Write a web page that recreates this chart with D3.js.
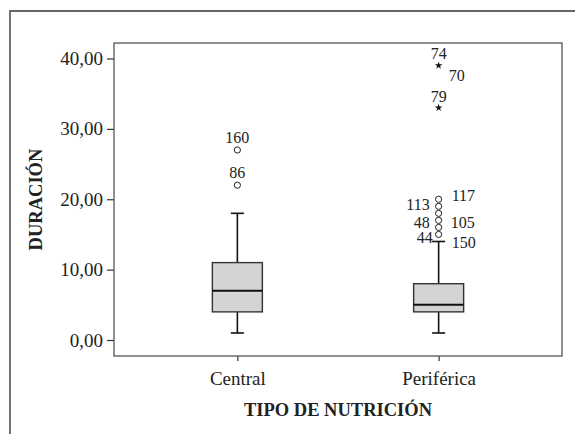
<!DOCTYPE html>
<html>
<head>
<meta charset="utf-8">
<title>Duración por tipo de nutrición</title>
<style>
	html, body { margin: 0; padding: 0; background: #fff; }
	svg { display: block; font-family: "Liberation Serif", "Times New Roman", serif; }
	.axis path, .axis line { stroke: #333; stroke-width: 1.2; }
	.axis text { font-family: "Liberation Serif", "Times New Roman", serif; font-size: 19px; fill: #222; }
	.title { font-size: 18.5px; font-weight: bold; fill: #222; }
	.lbl { font-size: 16px; fill: #222; }
</style>
</head>
<body>
<div id="chart"></div>
<script src="https://cdn.jsdelivr.net/npm/d3@7"></script>
<script>
// data
const categories = ["Central", "Periférica"]
const whiskerLow = [1, 1]
const q1 = [4, 4]
const medians = [7, 5]
const q3 = [11, 8]
const whiskerHigh = [18, 14]
const outliers = [[22, 27], [15, 16, 17, 18, 19, 20]]
const extremes = [[], [39, 33]]
const yTicks = [0, 10, 20, 30, 40]

// case labels: category, value it belongs to, case number
const caseLabels = [
	[0, 22, "86"], [0, 27, "160"],
	[1, 39, "74"], [1, 39, "70"], [1, 33, "79"],
	[1, 20, "117"], [1, 19, "113"], [1, 17, "48"],
	[1, 17, "105"], [1, 15, "44"], [1, 15, "150"]
]
// where each label sits next to its point (side, dx, dy in px)
const labelPlace = [
	["above", 0, -7], ["above", 0, -7],
	["above", 0, -7], ["right", 10, 15], ["above", 0, -6],
	["right", 13, 2], ["left", -9, 4], ["left", -9, 8],
	["right", 12, 8], ["left", -6, 9], ["right", 13, 14]
]

const width = 575, height = 434
const plot = { left: 114, top: 43, right: 562, bottom: 356 }

const svg = d3.select("#chart").append("svg")
	.attr("width", width)
	.attr("height", height)

// outer frame (runs past the right and bottom edges)
svg.append("path")
	.attr("d", "M10," + (height + 5) + "V11H" + (width + 5))
	.attr("fill", "none")
	.attr("stroke", "#666")
	.attr("stroke-width", 1.8)

const x = d3.scalePoint()
	.domain(categories)
	.range([plot.left, plot.right])
	.padding(0.613)

const y = d3.scaleLinear()
	.domain([-2.27, 42.2])
	.range([plot.bottom, plot.top])

svg.append("g")
	.attr("class", "axis")
	.attr("transform", "translate(" + plot.left + ",0)")
	.call(d3.axisLeft(y).tickValues(yTicks).tickSize(7).tickPadding(4)
		.tickFormat(d => d.toFixed(2).replace(".", ",")))
	.call(g => g.select(".domain").remove())

svg.append("g")
	.attr("class", "axis")
	.attr("transform", "translate(0," + plot.bottom + ")")
	.call(d3.axisBottom(x).tickSize(5).tickPadding(11))
	.call(g => g.select(".domain").remove())

svg.append("rect")
	.attr("x", plot.left)
	.attr("y", plot.top)
	.attr("width", plot.right - plot.left)
	.attr("height", plot.bottom - plot.top)
	.attr("fill", "none")
	.attr("stroke", "#555")
	.attr("stroke-width", 1.3)

const boxW = 50, capW = 13

const box = svg.selectAll("g.box")
	.data(categories)
	.enter()
	.append("g")
	.attr("class", "box")

// whiskers
box.append("line")
	.attr("x1", d => x(d)).attr("x2", d => x(d))
	.attr("y1", (d, i) => y(whiskerLow[i])).attr("y2", (d, i) => y(q1[i]))
	.attr("stroke", "#111").attr("stroke-width", 1.6)
box.append("line")
	.attr("x1", d => x(d)).attr("x2", d => x(d))
	.attr("y1", (d, i) => y(q3[i])).attr("y2", (d, i) => y(whiskerHigh[i]))
	.attr("stroke", "#111").attr("stroke-width", 1.6)
box.append("line")
	.attr("x1", d => x(d) - capW / 2).attr("x2", d => x(d) + capW / 2)
	.attr("y1", (d, i) => y(whiskerLow[i])).attr("y2", (d, i) => y(whiskerLow[i]))
	.attr("stroke", "#111").attr("stroke-width", 1.6)
box.append("line")
	.attr("x1", d => x(d) - capW / 2).attr("x2", d => x(d) + capW / 2)
	.attr("y1", (d, i) => y(whiskerHigh[i])).attr("y2", (d, i) => y(whiskerHigh[i]))
	.attr("stroke", "#111").attr("stroke-width", 1.6)

box.append("rect")
	.attr("x", d => x(d) - boxW / 2)
	.attr("y", (d, i) => y(q3[i]))
	.attr("width", boxW)
	.attr("height", (d, i) => y(q1[i]) - y(q3[i]))
	.attr("fill", "#d3d4d5")
	.attr("stroke", "#333")
	.attr("stroke-width", 1.4)

box.append("line")
	.attr("x1", d => x(d) - boxW / 2).attr("x2", d => x(d) + boxW / 2)
	.attr("y1", (d, i) => y(medians[i])).attr("y2", (d, i) => y(medians[i]))
	.attr("stroke", "#111").attr("stroke-width", 2)

// outliers (circles) and extremes (stars)
box.selectAll("circle")
	.data((d, i) => outliers[i].map(v => [d, v]))
	.enter()
	.append("circle")
	.attr("cx", d => x(d[0]))
	.attr("cy", d => y(d[1]))
	.attr("r", 3.1)
	.attr("fill", "#fff")
	.attr("stroke", "#222")
	.attr("stroke-width", 1)

box.selectAll("path.star")
	.data((d, i) => extremes[i].map(v => [d, v]))
	.enter()
	.append("path")
	.attr("class", "star")
	.attr("d", d3.symbol(d3.symbolStar, 18))
	.attr("transform", d => "translate(" + x(d[0]) + "," + y(d[1]) + ")")
	.attr("fill", "#111")

svg.selectAll("text.lbl")
	.data(caseLabels)
	.enter()
	.append("text")
	.attr("class", "lbl")
	.attr("x", (d, i) => x(categories[d[0]]) + labelPlace[i][1])
	.attr("y", (d, i) => y(d[1]) + labelPlace[i][2])
	.attr("text-anchor", (d, i) => labelPlace[i][0] === "above" ? "middle" : labelPlace[i][0] === "left" ? "end" : "start")
	.text(d => d[2])

svg.append("text")
	.attr("class", "title")
	.attr("text-anchor", "middle")
	.attr("x", (plot.left + plot.right) / 2)
	.attr("y", 416)
	.text("TIPO DE NUTRICIÓN")

svg.append("text")
	.attr("class", "title")
	.attr("text-anchor", "middle")
	.attr("transform", "translate(42," + (plot.top + plot.bottom) / 2 + ") rotate(-90)")
	.text("DURACIÓN")
</script>
</body>
</html>
